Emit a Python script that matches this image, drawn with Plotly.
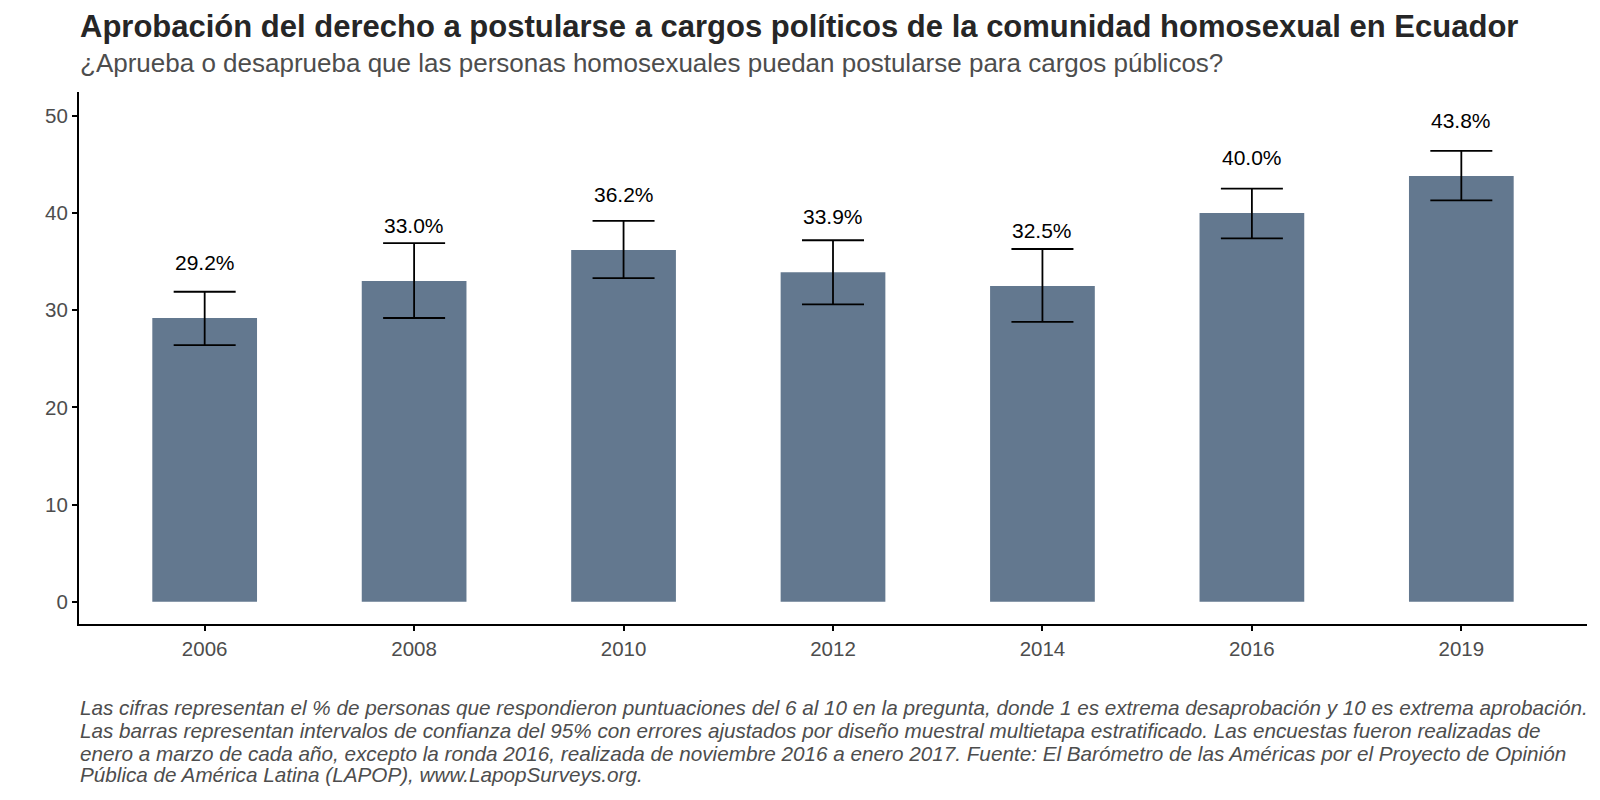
import plotly.graph_objects as go

# Barómetro de las Américas - Ecuador
years = ['2006', '2008', '2010', '2012', '2014', '2016', '2019']
approval = [29.2, 33.0, 36.2, 33.9, 32.5, 40.0, 43.8]
ci_low = [26.4, 29.2, 33.3, 30.6, 28.8, 37.4, 41.3]
ci_high = [31.9, 36.9, 39.2, 37.2, 36.3, 42.5, 46.4]

title = 'Aprobación del derecho a postularse a cargos políticos de la comunidad homosexual en Ecuador'
subtitle = '¿Aprueba o desaprueba que las personas homosexuales puedan postularse para cargos públicos?'
caption_lines = [
    'Las cifras representan el % de personas que respondieron puntuaciones del 6 al 10 en la pregunta, donde 1 es extrema desaprobación y 10 es extrema aprobación.',
    'Las barras representan intervalos de confianza del 95% con errores ajustados por diseño muestral multietapa estratificado. Las encuestas fueron realizadas de',
    'enero a marzo de cada año, excepto la ronda 2016, realizada de noviembre 2016 a enero 2017. Fuente: El Barómetro de las Américas por el Proyecto de Opinión',
    'Pública de América Latina (LAPOP), www.LapopSurveys.org.',
]

FONT = 'Liberation Sans, Arial, sans-serif'

fig = go.Figure(
    go.Bar(
        x=years,
        y=approval,
        width=0.5,
        marker_color='#63788f',
        marker_line_width=0,
        error_y=dict(
            type='data',
            symmetric=False,
            array=[h - v for h, v in zip(ci_high, approval)],
            arrayminus=[v - l for v, l in zip(approval, ci_low)],
            color='black',
            thickness=1.8,
            width=31,
        ),
        hoverinfo='skip',
    )
)

# etiquetas sobre las barras (x como indice de categoria)
for i, v in enumerate(approval):
    fig.add_annotation(
        x=i, y=v + 5.7, text=f'{v:.1f}%', showarrow=False,
        font=dict(family=FONT, size=21, color='black'),
        xanchor='center', yanchor='middle',
    )

fig.add_annotation(
    xref='paper', yref='paper', x=0, y=1.123, xanchor='left', yanchor='middle',
    text=f'<b>{title}</b>', showarrow=False, xshift=-1,
    font=dict(family=FONT, size=31, color='#262626'),
)
fig.add_annotation(
    xref='paper', yref='paper', x=0, y=1.054, xanchor='left', yanchor='middle',
    text=subtitle, showarrow=False, xshift=-1,
    font=dict(family=FONT, size=26, color='#4d4d4d'),
)
for line, yy in zip(caption_lines, [-0.157, -0.201, -0.243, -0.283]):
    fig.add_annotation(
        xref='paper', yref='paper', x=0, y=yy, xanchor='left', yanchor='middle',
        text=f'<i>{line}</i>', showarrow=False, xshift=-1,
        font=dict(family=FONT, size=20.7, color='#4d4d4d'),
    )

fig.update_layout(
    width=1600, height=800,
    margin=dict(l=71, r=21, t=84, b=183.5),
    paper_bgcolor='white', plot_bgcolor='white',
    showlegend=False,
    font=dict(family=FONT),
    xaxis=dict(
        type='category', range=[-0.6, 6.6],
        showline=True, linecolor='black', linewidth=2,
        ticks='outside', ticklen=5, tickwidth=1.5, tickcolor='black',
        tickfont=dict(family=FONT, size=20.5, color='#4d4d4d'),
        showgrid=False, zeroline=False,
    ),
    yaxis=dict(
        range=[-2.28, 52.45],
        tickvals=[0, 10, 20, 30, 40, 50],
        showline=True, linecolor='black', linewidth=2,
        ticks='outside', ticklen=5, tickwidth=1.5, tickcolor='black',
        tickfont=dict(family=FONT, size=20.5, color='#4d4d4d'),
        showgrid=False, zeroline=False,
    ),
)

fig.write_html('out.html')
